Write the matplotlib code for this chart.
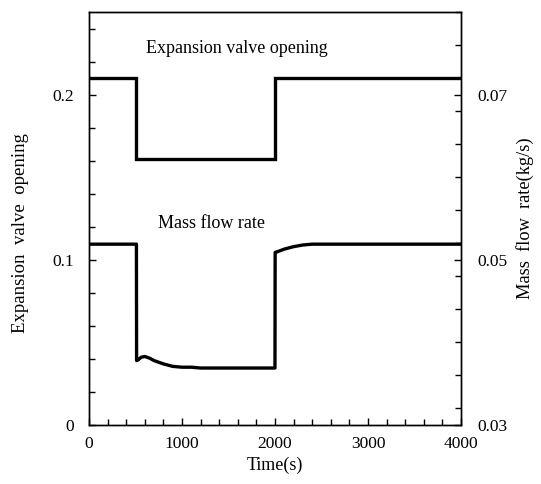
import matplotlib
matplotlib.use("Agg")
import matplotlib.pyplot as plt
from matplotlib.ticker import MultipleLocator

plt.rcParams['font.family'] = ['Liberation Serif', 'DejaVu Serif']

# Expansion valve opening (left axis)
valve_t = [0, 510, 510, 2000, 2000, 4000]
valve_v = [0.21, 0.21, 0.161, 0.161, 0.21, 0.21]

# Mass flow rate (right axis, kg/s)
flow_t = [0, 510, 512, 530, 560, 600, 650, 700, 800, 900, 1000, 1100, 1200,
          2000, 2002, 2030, 2100, 2200, 2300, 2400, 2500, 4000]
flow_v = [0.0519, 0.0519, 0.0378, 0.0379, 0.0382, 0.0383, 0.0381, 0.0378,
          0.0374, 0.0371, 0.0370, 0.0370, 0.0369, 0.0369, 0.0509, 0.0510,
          0.0513, 0.0516, 0.0518, 0.0519, 0.0519, 0.0519]

fig = plt.figure(figsize=(5.41, 4.84), dpi=100)
ax = fig.add_axes([0.1645, 0.1219, 0.6875, 0.853])
ax2 = ax.twinx()

ax.plot(valve_t, valve_v, color='black', lw=2.4, solid_joinstyle='miter')
ax2.plot(flow_t, flow_v, color='black', lw=2.4)

ax.set_xlim(0, 4000)
ax.set_ylim(0, 0.25)
ax2.set_ylim(0.03, 0.08)

ax.set_xticks([0, 1000, 2000, 3000, 4000])
ax.set_yticks([0, 0.1, 0.2])
ax.set_yticklabels(['0', '0.1', '0.2'])
ax2.set_yticks([0.03, 0.05, 0.07])
ax2.set_yticklabels(['0.03', '0.05', '0.07'])
ax.xaxis.set_minor_locator(MultipleLocator(200))
ax.yaxis.set_minor_locator(MultipleLocator(0.02))
ax2.yaxis.set_minor_locator(MultipleLocator(0.004))

for a in (ax, ax2):
    a.tick_params(which='both', direction='in', labelsize=12.5, width=1)
    a.tick_params(which='major', length=5)
    a.tick_params(which='minor', length=4)
    for s in a.spines.values():
        s.set_linewidth(1)
ax.tick_params(axis='x', top=False, pad=8)
ax.tick_params(axis='y', pad=11)
ax2.tick_params(axis='y', pad=12)

ax.set_xlabel('Time(s)', fontsize=13, labelpad=3)
ax.set_ylabel('Expansion  valve  opening', fontsize=13.5, va='center')
ax.yaxis.set_label_coords(-0.183, 0.465)
ax2.set_ylabel('Mass  flow  rate(kg/s)', fontsize=13.2, va='center')
ax2.yaxis.set_label_coords(1.172, 0.5)

ax.text(1593, 0.228, 'Expansion valve opening', fontsize=13, ha='center', va='center')
ax.text(1315, 0.1218, 'Mass flow rate', fontsize=13, ha='center', va='center')

fig.savefig('out.png', dpi=100)
